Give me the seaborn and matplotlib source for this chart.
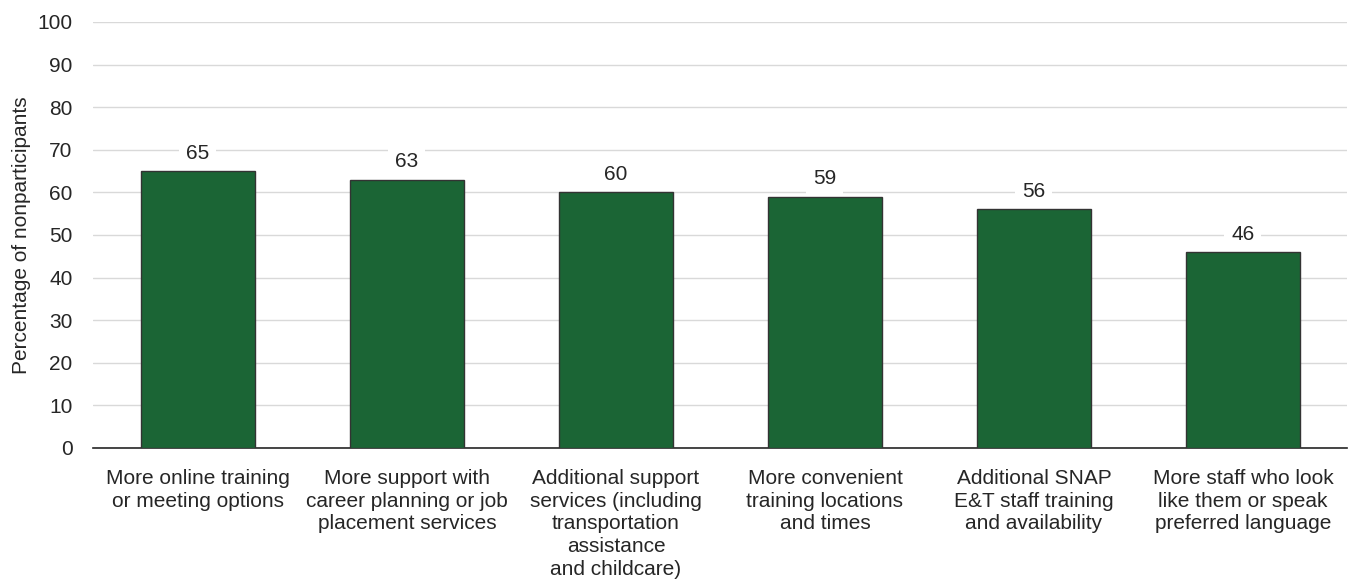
import matplotlib
matplotlib.use("Agg")
import matplotlib.pyplot as plt
import seaborn as sns
import pandas as pd

categories = [
    "More online training\nor meeting options",
    "More support with\ncareer planning or job\nplacement services",
    "Additional support\nservices (including\ntransportation\nassistance\nand childcare)",
    "More convenient\ntraining locations\nand times",
    "Additional SNAP\nE&T staff training\nand availability",
    "More staff who look\nlike them or speak\npreferred language",
]
values = [65, 63, 60, 59, 56, 46]
y_ticks = [0, 10, 20, 30, 40, 50, 60, 70, 80, 90, 100]

sns.set_theme(style="white")
plt.rcParams["font.family"] = ["Liberation Sans", "DejaVu Sans"]

df = pd.DataFrame({"category": categories, "value": values})

fig = plt.figure(figsize=(13.51, 5.83), dpi=100)
ax = fig.add_axes([0.0692, 0.2316, 0.9282, 0.7307])

sns.barplot(data=df, x="category", y="value", color="#1b6535", saturation=1,
            width=0.55, edgecolor="#333333", linewidth=1.0, ax=ax, zorder=3)

ax.set_ylim(0, 100)
ax.set_xlim(-0.5, len(categories) - 0.5)
ax.set_yticks(y_ticks)
ax.yaxis.grid(True, color="#d9d9d9", linewidth=1.0, zorder=0)
ax.set_axisbelow(True)
for s in ["top", "right", "left"]:
    ax.spines[s].set_visible(False)
ax.spines["bottom"].set_color("#262626")
ax.spines["bottom"].set_linewidth(1.2)
ax.tick_params(axis="both", length=0, labelsize=15, colors="#262626")
ax.tick_params(axis="y", pad=15)
ax.tick_params(axis="x", pad=15)
for lbl in ax.get_xticklabels():
    lbl.set_linespacing(1.25)
ax.set_xlabel("")
ax.set_ylabel("Percentage of nonparticipants", fontsize=15, color="#262626", labelpad=5)

for i, v in enumerate(values):
    ax.text(i, v + 4.2, f"{v}", ha="center", va="center", fontsize=15, color="#262626",
            bbox=dict(facecolor="white", edgecolor="none", pad=5), zorder=4)

fig.savefig("out.png", dpi=100)
